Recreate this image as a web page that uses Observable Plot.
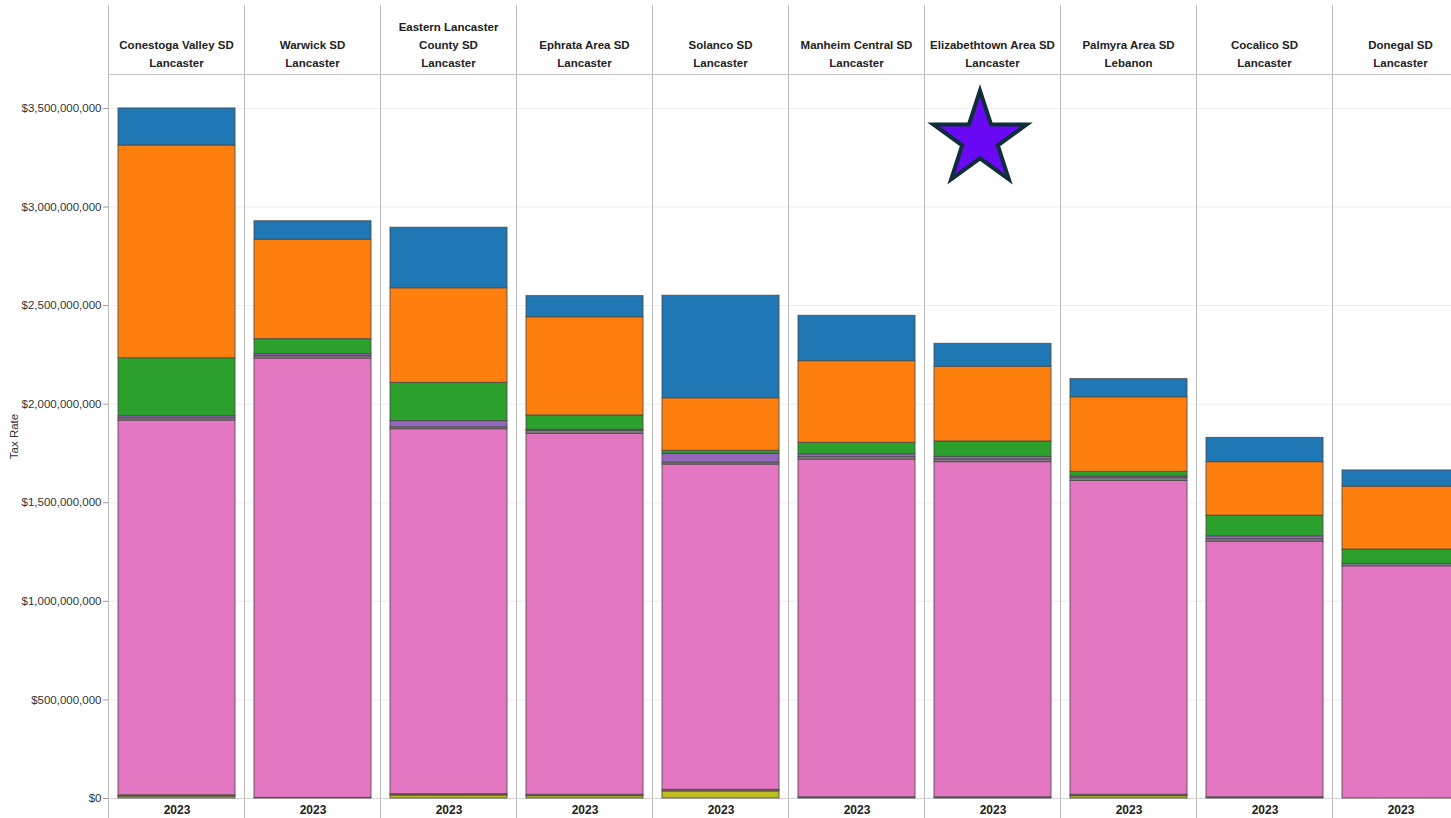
<!DOCTYPE html>
<html>
<head>
<meta charset="utf-8">
<script src="https://cdn.jsdelivr.net/npm/d3@7"></script>
<script src="https://cdn.jsdelivr.net/npm/@observablehq/plot@0.6"></script>
<style>
html, body { margin: 0; padding: 0; background: #fff; overflow: hidden; }
#chart { width: 1470px; }
</style>
</head>
<body>
<div id="chart"></div>
<script>
// ---- data ----
const districts = ["Conestoga Valley SD", "Warwick SD", "Eastern Lancaster County SD", "Ephrata Area SD", "Solanco SD",
  "Manheim Central SD", "Elizabethtown Area SD", "Palmyra Area SD", "Cocalico SD", "Donegal SD"];
const counties = ["Lancaster", "Lancaster", "Lancaster", "Lancaster", "Lancaster",
  "Lancaster", "Lancaster", "Lebanon", "Lancaster", "Lancaster"];
const years = ["2023"];
// stacking order, bottom to top
const series = ["Category 1", "Category 2", "Category 3", "Category 4", "Category 5", "Category 6", "Category 7", "Category 8"];
const palette = ["#bcbd22", "#8c564b", "#e377c2", "#7f7f7f", "#9467bd", "#2ca02c", "#ff7f0e", "#1f77b4"];

const cat1 = [0.010e9, 0,       0.015e9, 0.012e9, 0.036e9, 0,       0,       0.012e9, 0,       0];
const cat2 = [0.006e9, 0.003e9, 0.007e9, 0.007e9, 0.008e9, 0.006e9, 0.006e9, 0.007e9, 0.006e9, 0];
const cat3 = [1.901e9, 2.229e9, 1.851e9, 1.831e9, 1.650e9, 1.713e9, 1.700e9, 1.592e9, 1.296e9, 1.178e9];
const cat4 = [0.012e9, 0.012e9, 0.010e9, 0.014e9, 0.010e9, 0.013e9, 0.014e9, 0.014e9, 0.013e9, 0.012e9];
const cat5 = [0.010e9, 0.010e9, 0.031e9, 0.006e9, 0.044e9, 0.014e9, 0.013e9, 0.008e9, 0.015e9, 0];
const cat6 = [0.294e9, 0.076e9, 0.194e9, 0.073e9, 0.016e9, 0.058e9, 0.078e9, 0.024e9, 0.105e9, 0.073e9];
const cat7 = [1.079e9, 0.504e9, 0.480e9, 0.498e9, 0.266e9, 0.414e9, 0.379e9, 0.378e9, 0.271e9, 0.319e9];
const cat8 = [0.188e9, 0.094e9, 0.307e9, 0.107e9, 0.520e9, 0.230e9, 0.116e9, 0.092e9, 0.123e9, 0.082e9];
const seriesValues = [cat1, cat2, cat3, cat4, cat5, cat6, cat7, cat8];

const yTicks = [0, 0.5e9, 1e9, 1.5e9, 2e9, 2.5e9, 3e9, 3.5e9];
const starMark = [{district: "Elizabethtown Area SD", year: "2023", value: 3.342e9}];

// ---- table ----
const rows = [];
series.forEach((s, si) => {
  districts.forEach((d, di) => {
    rows.push({district: d, county: counties[di], year: years[0], series: s, value: seriesValues[si][di]});
  });
});

function wrapName(name) {
  if (name.length <= 22) return name;
  const cut = name.lastIndexOf(" ", 18);
  return name.slice(0, cut) + "\n" + name.slice(cut + 1);
}

const chart = Plot.plot({
  width: 1470,
  height: 818,
  marginLeft: 108,
  marginRight: 2,
  marginTop: 74,
  marginBottom: 20,
  style: {fontFamily: "Arial, 'Liberation Sans', sans-serif", background: "#fff", color: "#333", overflow: "visible"},
  fx: {domain: districts, padding: 0, axis: null},
  x: {domain: years, padding: 0.075, axis: null},
  y: {domain: [0, 3.6722e9], axis: null},
  color: {type: "ordinal", domain: series, range: palette},
  marks: [
    Plot.gridY(yTicks, {stroke: "#000", strokeOpacity: 0.07}),
    Plot.frame({anchor: "left", stroke: "#bdbdbd", strokeOpacity: 1, insetTop: -69, insetBottom: -20}),
    Plot.frame({anchor: "top", stroke: "#c6c6c6", strokeOpacity: 1}),
    Plot.frame({anchor: "bottom", stroke: "#d4d4d4", strokeOpacity: 1}),
    Plot.barY(rows, Plot.stackY({order: series}, {
      fx: "district", x: "year", y: "value", z: "series", fill: "series",
      stroke: "#4a4a4a", strokeWidth: 1, strokeOpacity: 0.85
    })),
    Plot.axisY(yTicks, {
      tickFormat: d3.format("$,"), tickSize: 5, tickPadding: 2, fontSize: 11.5,
      stroke: "#999", fill: "#333",
      label: "Tax Rate", labelAnchor: "center", labelArrow: "none", labelOffset: 99
    }),
    Plot.axisX({anchor: "bottom", tickSize: 0, tickPadding: 7, fontWeight: "bold", fontSize: 12, fill: "#222", label: null}),
    Plot.text(districts, {
      fx: d => d,
      text: (d, i) => wrapName(d) + "\n" + counties[i],
      frameAnchor: "top", dy: -8, lineAnchor: "bottom", lineHeight: 1.55,
      fontWeight: "bold", fontSize: 11.5, fill: "#222"
    }),
    Plot.dot(starMark, {
      fx: "district", x: "year", y: "value", symbol: "star", r: 29.3, dx: -13,
      fill: "#6a0af5", stroke: "#0f2d3a", strokeWidth: 4
    })
  ]
});
document.getElementById("chart").appendChild(chart);
</script>
</body>
</html>
